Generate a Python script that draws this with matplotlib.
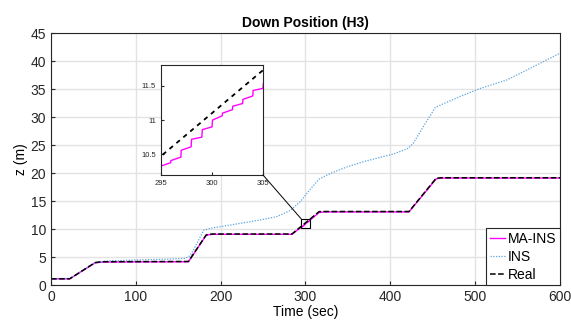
import matplotlib
matplotlib.use('Agg')
import matplotlib.pyplot as plt
from matplotlib.patches import Rectangle, ConnectionPatch

plt.rcParams['font.family'] = ['Liberation Sans', 'DejaVu Sans']

# reference trajectory
real_t = [0, 22, 52, 60, 162, 183, 190, 284, 316, 322, 422, 454, 460, 600]
real_z = [1.1, 1.1, 4.0, 4.15, 4.2, 8.95, 9.1, 9.1, 13.1, 13.12, 13.12, 19.05, 19.15, 19.15]

# MA-INS estimate (stair steps from the 1 s update)
ma_t = [0, 22, 52, 60, 162, 183, 190, 284,
        295.0, 295.95, 295.97, 296.95, 296.98, 297.95, 298.0, 299.0, 299.05,
        300.0, 300.05, 301.0, 301.03, 302.0, 302.03, 303.0, 303.03, 304.0,
        304.03, 305.0, 305.03,
        316, 322, 422, 454, 460, 600]
ma_z = [1.1, 1.1, 3.95, 4.1, 4.15, 8.9, 9.05, 9.05,
        10.33, 10.38, 10.41, 10.46, 10.56, 10.61, 10.72, 10.75, 10.86,
        10.90, 11.00, 11.06, 11.10, 11.15, 11.20, 11.24, 11.30, 11.35,
        11.43, 11.46, 11.53,
        12.95, 13.05, 13.05, 18.95, 19.1, 19.1]

# plain INS
ins_t = [0, 23, 52, 66, 97, 136, 158, 164, 172, 180, 191, 211, 246, 266, 282,
         294, 305, 316, 329, 349, 368, 388, 404, 421, 427, 439, 453, 463, 486,
         506, 537, 561, 600]
ins_z = [1.1, 1.2, 4.05, 4.3, 4.45, 4.6, 4.75, 5.2, 7.4, 9.8, 10.2, 10.7, 11.6,
         12.2, 13.3, 14.9, 17.0, 18.9, 19.9, 21.1, 22.0, 22.8, 23.4, 24.4, 25.3,
         28.3, 31.7, 32.4, 33.9, 35.1, 36.6, 38.4, 41.4]

zoom_x = (295, 305)
zoom_y = (10.2, 11.8)

c_ma = '#FF00FF'
c_ins = '#5AA5E0'
ins_ls = (0, (1, 1.2))

fig = plt.figure(figsize=(5.71, 3.22), dpi=100)
fig.set_facecolor('white')
ax = fig.add_axes([0.0893, 0.1149, 0.8914, 0.7826])

ax.plot(ma_t, ma_z, color=c_ma, lw=1.0, label='MA-INS')
ax.plot(ins_t, ins_z, color=c_ins, lw=0.9, ls=ins_ls, label='INS')
ax.plot(real_t, real_z, color='k', lw=1.1, ls='--', label='Real')

ax.set_xlim(0, 600)
ax.set_ylim(0, 45)
ax.set_xticks(range(0, 601, 100))
ax.set_yticks(range(0, 46, 5))
ax.grid(True, color='#e3e3e3', lw=1.0)
ax.set_axisbelow(True)
ax.tick_params(direction='in', length=3, labelsize=10, colors='#262626', top=False, right=False)
for s in ax.spines.values():
    s.set_color('#262626')
    s.set_linewidth(0.8)
ax.set_title('Down Position (H3)', fontsize=10, fontweight='bold', pad=4)
ax.set_xlabel('Time (sec)', fontsize=10, labelpad=1)
ax.set_ylabel('z (m)', fontsize=10, labelpad=2)

leg = ax.legend(loc='lower right', fontsize=10, borderaxespad=0, fancybox=False,
                handlelength=1.1, handletextpad=0.2, borderpad=0.25, labelspacing=0.28,
                framealpha=1)
leg.get_frame().set_edgecolor('#262626')
leg.get_frame().set_linewidth(0.8)

# zoom box on the main axes
ax.add_patch(Rectangle((zoom_x[0], zoom_y[0]), zoom_x[1] - zoom_x[0], zoom_y[1] - zoom_y[0],
                       fill=False, ec='k', lw=0.8, zorder=5))

# inset
axi = fig.add_axes([0.282, 0.4565, 0.1786, 0.3416])
axi.plot(ma_t, ma_z, color=c_ma, lw=1.0)
axi.plot(ins_t, ins_z, color=c_ins, lw=0.9, ls=ins_ls)
axi.plot(real_t, real_z, color='k', lw=1.3, ls=(0, (2.5, 2.5)))
axi.set_xlim(*zoom_x)
axi.set_ylim(*zoom_y)
axi.set_xticks([295, 300, 305])
axi.set_yticks([10.5, 11, 11.5])
axi.set_yticklabels(['10.5', '11', '11.5'])
axi.tick_params(direction='in', length=2, labelsize=5.5, colors='#262626')
for s in axi.spines.values():
    s.set_color('#262626')
    s.set_linewidth(0.8)

con = ConnectionPatch(xyA=(zoom_x[1], zoom_y[0]), coordsA=axi.transData,
                      xyB=(zoom_x[0], zoom_y[1]), coordsB=ax.transData,
                      color='k', lw=0.7)
fig.add_artist(con)

fig.savefig('out.png', dpi=100)
